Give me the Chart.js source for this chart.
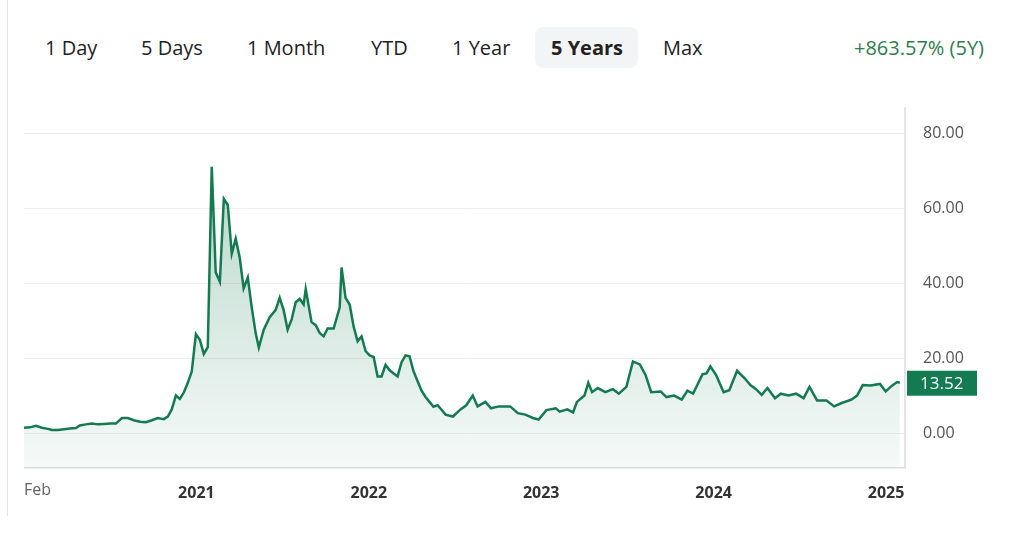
<!DOCTYPE html>
<html>
<head>
<meta charset="utf-8">
<script src="https://cdn.jsdelivr.net/npm/chart.js@4.4.1/dist/chart.umd.min.js"></script>
<style>
  body { margin: 0; background: #fff; font-family: "Open Sans", "Noto Sans", sans-serif; }
  #wrap { position: relative; width: 1024px; height: 541px; overflow: hidden; }
  #edge { position: absolute; left: 7px; top: 0; width: 1px; height: 516px; background: #e3e3e3; }
  .tab { position: absolute; top: 34px; font-size: 20px; color: #222; }
  #sel { position: absolute; left: 535px; top: 27px; width: 103px; height: 41px; background: #f3f4f6; border-radius: 8px; }
  #chg { position: absolute; right: 40px; top: 34px; font-size: 20px; color: #2e7d4f; }
  #c { position: absolute; left: 0; top: 80px; }
</style>
</head>
<body>
<div id="wrap">
  <div id="edge"></div>
  <div id="sel"></div>
  <span class="tab" style="left:45px">1 Day</span>
  <span class="tab" style="left:141px">5 Days</span>
  <span class="tab" style="left:247px">1 Month</span>
  <span class="tab" style="left:371px">YTD</span>
  <span class="tab" style="left:452px">1 Year</span>
  <span class="tab" style="left:551px;font-weight:700">5 Years</span>
  <span class="tab" style="left:663px">Max</span>
  <span id="chg">+863.57% (5Y)</span>
  <canvas id="c" width="1024" height="431"></canvas>
</div>
<script>
// dates as decimal years, prices
const fechas = [
  2020.00, 2020.035, 2020.07, 2020.104, 2020.139, 2020.162, 2020.197, 2020.232, 2020.267, 2020.301,
  2020.324, 2020.359, 2020.394, 2020.429, 2020.463, 2020.498, 2020.533, 2020.568, 2020.603, 2020.637,
  2020.672, 2020.707, 2020.742, 2020.776, 2020.811, 2020.834, 2020.857, 2020.881, 2020.904, 2020.927,
  2020.950, 2020.973, 2020.997, 2021.02, 2021.043, 2021.066, 2021.089, 2021.112, 2021.136, 2021.159,
  2021.182, 2021.205, 2021.228, 2021.251, 2021.274, 2021.298, 2021.321, 2021.344, 2021.362, 2021.390,
  2021.425, 2021.460, 2021.483, 2021.506, 2021.529, 2021.553, 2021.576, 2021.599, 2021.622, 2021.634,
  2021.668, 2021.692, 2021.715, 2021.738, 2021.761, 2021.796, 2021.831, 2021.842, 2021.865, 2021.889,
  2021.912, 2021.935, 2021.958, 2021.981, 2022.005, 2022.028, 2022.051, 2022.074, 2022.097, 2022.120,
  2022.144, 2022.167, 2022.190, 2022.213, 2022.236, 2022.260, 2022.283, 2022.306, 2022.329, 2022.352,
  2022.375, 2022.399, 2022.422, 2022.445, 2022.488, 2022.532, 2022.565, 2022.603, 2022.631, 2022.676,
  2022.709, 2022.753, 2022.820, 2022.864, 2022.908, 2022.952, 2022.985, 2023.030, 2023.085, 2023.107,
  2023.151, 2023.185, 2023.207, 2023.251, 2023.273, 2023.295, 2023.328, 2023.372, 2023.416, 2023.450,
  2023.494, 2023.532, 2023.572, 2023.605, 2023.638, 2023.693, 2023.726, 2023.771, 2023.815, 2023.848,
  2023.881, 2023.936, 2023.959, 2023.981, 2024.014, 2024.058, 2024.091, 2024.136, 2024.180, 2024.213,
  2024.246, 2024.279, 2024.312, 2024.356, 2024.390, 2024.434, 2024.478, 2024.522, 2024.556, 2024.600,
  2024.655, 2024.699, 2024.743, 2024.799, 2024.832, 2024.865, 2024.910, 2024.965, 2024.998, 2025.031,
  2025.064, 2025.080
];
const precios = [
  1.5, 1.6, 2.0, 1.5, 1.2, 0.9, 0.9, 1.1, 1.3, 1.4,
  2.1, 2.4, 2.6, 2.4, 2.5, 2.6, 2.6, 4.1, 4.1, 3.5,
  3.1, 3.0, 3.5, 4.1, 3.8, 4.5, 6.4, 10.1, 9.2, 10.9,
  13.5, 16.5, 26.5, 25.0, 21.2, 23.0, 71.2, 43.0, 40.5, 62.6,
  61.0, 48.0, 52.0, 47.0, 38.7, 41.6, 33.6, 26.7, 22.9, 27.6,
  31.0, 33.0, 36.2, 32.9, 27.7, 30.5, 35.0, 35.9, 34.4, 38.5,
  29.7, 28.9, 26.8, 25.9, 28.0, 28.0, 33.6, 44.3, 36.2, 34.4,
  28.5, 24.6, 25.9, 22.0, 20.8, 20.4, 15.2, 15.2, 18.3, 16.9,
  16.0, 15.2, 19.0, 20.8, 20.6, 16.5, 13.9, 11.4, 9.7, 8.4,
  7.1, 7.5, 6.3, 5.0, 4.5, 6.4, 7.5, 10.1, 7.2, 8.4,
  6.7, 7.2, 7.2, 5.4, 5.0, 4.1, 3.7, 6.2, 6.7, 5.8,
  6.4, 5.6, 8.4, 10.1, 13.5, 11.0, 12.1, 11.0, 11.8, 10.6,
  12.4, 19.2, 18.4, 15.6, 11.0, 11.2, 9.7, 10.1, 9.0, 11.4,
  10.6, 15.8, 16.0, 17.9, 15.6, 11.0, 11.5, 16.7, 14.7, 12.9,
  11.8, 10.3, 12.1, 9.4, 10.6, 10.1, 10.6, 9.4, 12.4, 8.8,
  8.8, 7.2, 8.1, 9.0, 10.1, 12.9, 12.8, 13.2, 11.2, 12.6,
  13.7, 13.52
];
const ticksX = [2020, 2021, 2022, 2023, 2024, 2025];
const etiquetasX = ["Feb", "2021", "2022", "2023", "2024", "2025"];
const ticksY = [0, 20, 40, 60, 80];
const ultimo = precios[precios.length - 1];

const verde = "#137a52";

const etiquetaUltimo = {
  id: "etiquetaUltimo",
  afterDraw(chart) {
    const { ctx, chartArea, scales } = chart;
    const y = scales.y.getPixelForValue(ultimo);
    ctx.save();
    ctx.fillStyle = verde;
    ctx.fillRect(chartArea.right + 2, y - 12, 70, 25);
    ctx.fillStyle = "#fff";
    ctx.font = "17px 'Open Sans'";
    ctx.textBaseline = "middle";
    ctx.fillText(ultimo.toFixed(2), chartArea.right + 15, y + 1);
    // first x label, left aligned to the plot edge
    ctx.fillStyle = "#666";
    ctx.font = "16px 'Open Sans'";
    ctx.textBaseline = "top";
    ctx.fillText(etiquetasX[0], chartArea.left, chartArea.bottom + 15);
    // borders right and bottom
    ctx.strokeStyle = "#dcdcdc";
    ctx.lineWidth = 1.5;
    ctx.beginPath();
    ctx.moveTo(chartArea.right, chartArea.top);
    ctx.lineTo(chartArea.right, chartArea.bottom);
    ctx.lineTo(chartArea.left, chartArea.bottom);
    ctx.stroke();
    ctx.restore();
  }
};

const ctx = document.getElementById("c").getContext("2d");
new Chart(ctx, {
  type: "line",
  data: {
    datasets: [{
      data: fechas.map((f, i) => ({ x: f, y: precios[i] })),
      borderColor: verde,
      borderWidth: 2.5,
      pointRadius: 0,
      tension: 0,
      fill: "start",
      backgroundColor: (c) => {
        const a = c.chart.chartArea;
        if (!a) return "rgba(19,122,82,0.15)";
        const g = c.chart.ctx.createLinearGradient(0, a.top, 0, a.bottom);
        g.addColorStop(0, "rgba(19,122,82,0.35)");
        g.addColorStop(1, "rgba(19,122,82,0.04)");
        return g;
      }
    }]
  },
  options: {
    responsive: false,
    animation: false,
    layout: { padding: { left: 24, right: 0, top: 0, bottom: 0 } },
    plugins: { legend: { display: false }, tooltip: { enabled: false } },
    scales: {
      x: {
        type: "linear",
        min: 2020,
        max: 2025.11,
        afterBuildTicks: (s) => { s.ticks = ticksX.map((v) => ({ value: v })); },
        grid: { display: false },
        border: { display: false },
        ticks: {
          autoSkip: false,
          maxRotation: 0,
          padding: 8,
          color: "#333",
          font: { family: "Open Sans", size: 16, weight: "700" },
          callback: (v, i) => (i === 0 ? "" : etiquetasX[i])
        }
      },
      y: {
        position: "right",
        min: -9.2,
        max: 87,
        afterBuildTicks: (s) => { s.ticks = ticksY.map((v) => ({ value: v })); },
        grid: { color: "#eeeeee", drawTicks: false },
        border: { display: false },
        ticks: {
          padding: 18,
          color: "#555",
          font: { family: "Open Sans", size: 16 },
          callback: (v) => v.toFixed(2)
        },
        afterFit: (s) => { s.width = 119; }
      }
    }
  },
  plugins: [etiquetaUltimo]
});
</script>
</body>
</html>
